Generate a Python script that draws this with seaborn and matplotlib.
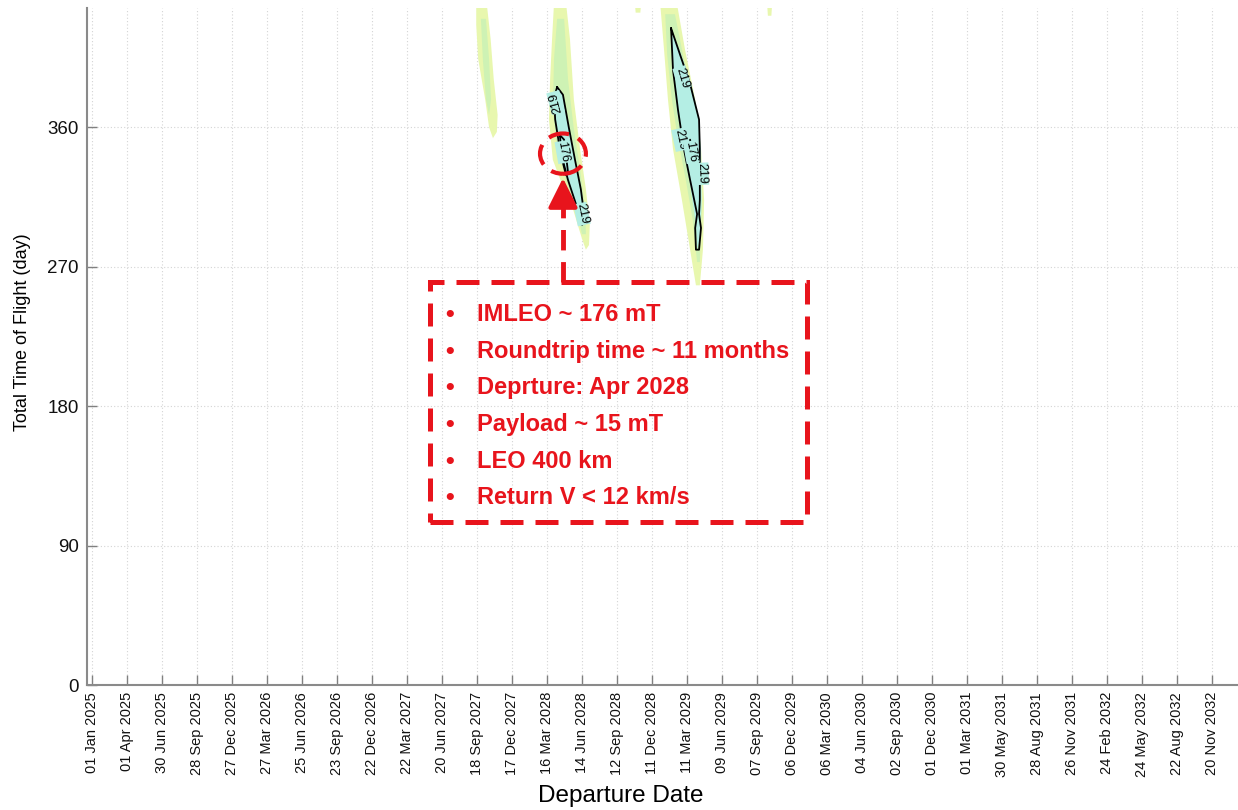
import matplotlib
matplotlib.use("Agg")
import matplotlib.pyplot as plt
import seaborn as sns
import pandas as pd
from matplotlib.patches import Ellipse, Rectangle

# ---------------- data ----------------
# x: departure date in days since 01 Jan 2025 ; y: total time of flight (days)
tick_days = [i * 90 for i in range(33)]
tick_labels = ["01 Jan 2025", "01 Apr 2025", "30 Jun 2025", "28 Sep 2025", "27 Dec 2025",
               "27 Mar 2026", "25 Jun 2026", "23 Sep 2026", "22 Dec 2026", "22 Mar 2027",
               "20 Jun 2027", "18 Sep 2027", "17 Dec 2027", "16 Mar 2028", "14 Jun 2028",
               "12 Sep 2028", "11 Dec 2028", "11 Mar 2029", "09 Jun 2029", "07 Sep 2029",
               "06 Dec 2029", "06 Mar 2030", "04 Jun 2030", "02 Sep 2030", "01 Dec 2030",
               "01 Mar 2031", "30 May 2031", "28 Aug 2031", "26 Nov 2031", "24 Feb 2032",
               "24 May 2032", "22 Aug 2032", "20 Nov 2032"]
y_ticks = [0, 90, 180, 270, 360]

# band 1 (Sep 2027 window)
band1_outer_x = [988, 1015, 1025, 1033, 1043, 1041, 1031, 1021, 1011, 993, 988]
band1_outer_y = [440, 440, 417, 391, 368, 357, 353, 360, 378, 404, 426]
band1_mid_x = [1000, 1013, 1021, 1026, 1021, 1013, 1005]
band1_mid_y = [430, 430, 404, 378, 368, 378, 404]

# band 2 (Apr 2028 window)
band2_outer_x = [1188, 1219, 1229, 1239, 1255, 1270, 1280, 1278, 1270, 1260, 1237, 1209, 1185, 1175, 1178, 1183]
band2_outer_y = [440, 440, 417, 378, 346, 320, 297, 284, 281, 288, 307, 323, 339, 365, 391, 417]
band2_mid_x = [1196, 1214, 1224, 1239, 1255, 1268, 1270, 1260, 1245, 1219, 1196, 1185, 1188]
band2_mid_y = [430, 430, 391, 359, 333, 307, 291, 291, 307, 326, 346, 371, 404]
band2_core_x = [1196, 1211, 1226, 1242, 1257, 1268, 1260, 1245, 1224, 1203, 1191, 1188, 1196]
band2_core_y = [386, 381, 360, 339, 320, 299, 297, 310, 326, 346, 365, 379, 386]
band2_c176_x = [1203, 1214, 1224, 1219, 1209, 1203]
band2_c176_y = [355, 352, 331, 329, 339, 355]

# band 3 (Feb-Apr 2029 window)
band3_outer_x = [1461, 1504, 1525, 1551, 1566, 1574, 1571, 1563, 1553, 1538, 1517, 1494, 1481, 1471]
band3_outer_y = [440, 440, 410, 378, 346, 313, 281, 258, 258, 281, 313, 346, 378, 410]
band3_mid_x = [1474, 1499, 1522, 1548, 1563, 1568, 1563, 1556, 1545, 1527, 1507, 1491, 1479]
band3_mid_y = [433, 433, 404, 371, 339, 307, 273, 273, 300, 326, 352, 378, 407]
band3_core_x = [1489, 1515, 1541, 1558, 1566, 1568, 1563, 1556, 1553, 1538, 1520, 1504, 1494]
band3_core_y = [424, 407, 388, 368, 346, 313, 288, 281, 297, 323, 346, 371, 397]
band3_c219_x = [1489, 1512, 1538, 1561, 1563, 1563, 1561, 1566, 1561, 1553, 1551, 1556, 1538, 1522, 1507, 1494, 1489]
band3_c219_y = [424, 407, 388, 365, 346, 313, 304, 295, 281, 281, 295, 304, 326, 346, 371, 397, 424]
band3_c176_x = [1538, 1545]
band3_c176_y = [352, 339]

# small isolated patches at the top
blob_a_x = [1396, 1412, 1410, 1398]
blob_a_y = [440, 440, 434, 434]
blob_b_x = [1736, 1749, 1747, 1738]
blob_b_y = [440, 440, 432, 432]

# contour labels: (x, y, text, rotation)
contour_labels = [(1192, 376, "219", 105), (1260, 304, "219", -78), (1211, 344, "176", -80),
                  (1517, 392, "219", -73), (1512, 352, "219", -78), (1541, 344, "176", -80),
                  (1569, 330, "219", -88)]

# annotation
note_lines = ["IMLEO ~ 176 mT", "Roundtrip time ~ 11 months", "Deprture: Apr 2028",
              "Payload ~ 15 mT", "LEO 400 km", "Return V < 12 km/s"]

# ---------------- style ----------------
sns.set_theme(style="white")
plt.rcParams["font.family"] = ["Liberation Sans", "DejaVu Sans"]

OUTER = "#e8f7ae"
MID = "#cef2b4"
CORE = "#b4eee4"
RED = "#e8141c"

fig = plt.figure(figsize=(12.38, 8.10), dpi=100)
ax = fig.add_axes([87 / 1238, 125 / 810, (1238 - 87) / 1238, (685 - 8) / 810])

for xs, ys, c in [(band1_outer_x, band1_outer_y, OUTER), (band1_mid_x, band1_mid_y, MID),
                  (band2_outer_x, band2_outer_y, OUTER), (band2_mid_x, band2_mid_y, MID),
                  (band2_core_x, band2_core_y, CORE),
                  (band3_outer_x, band3_outer_y, OUTER), (band3_mid_x, band3_mid_y, MID),
                  (band3_core_x, band3_core_y, CORE),
                  (blob_a_x, blob_a_y, OUTER), (blob_b_x, blob_b_y, OUTER)]:
    ax.fill(xs, ys, color=c, lw=0, zorder=1)

for xs, ys in [(band2_core_x, band2_core_y), (band2_c176_x, band2_c176_y),
               (band3_c219_x, band3_c219_y), (band3_c176_x, band3_c176_y)]:
    df = pd.DataFrame({"d": xs, "t": ys})
    sns.lineplot(data=df, x="d", y="t", sort=False, estimator=None, color="black",
                 lw=1.3, ax=ax, zorder=3)

for x, y, s, r in contour_labels:
    ax.text(x, y, s, rotation=r, ha="center", va="center", fontsize=9, color="black",
            zorder=4, rotation_mode="anchor",
            bbox=dict(boxstyle="square,pad=0.05", fc=CORE, ec="none"))

# red annotation
ax.add_patch(Ellipse((1211, 343), 118, 26, fill=False, ec=RED, lw=3,
                     ls=(0, (5, 2.4)), zorder=5))
ax.plot([1211, 1211], [260, 316], color=RED, lw=3.5, ls=(0, (4.2, 2.4)), zorder=5,
        solid_capstyle="butt", dash_capstyle="butt")
ax.annotate("", xy=(1211, 329), xytext=(1211, 316),
            arrowprops=dict(arrowstyle="-|>,head_length=0.9,head_width=0.45",
                            color=RED, lw=3, mutation_scale=20), zorder=5)
ax.add_patch(Rectangle((869, 105), 1839 - 869, 260 - 105, fill=False, ec=RED, lw=3.6,
                       ls=(0, (4.6, 2.4)), zorder=5))
line_y = [239, 215, 192, 168, 144, 121]
for yy, s in zip(line_y, note_lines):
    ax.text(920, yy, "\u2022", color=RED, fontsize=18, fontweight="bold",
            ha="center", va="center", zorder=6)
    ax.text(990, yy, s, color=RED, fontsize=17, fontweight="bold",
            ha="left", va="center", zorder=6)

# axes
ax.set_xlim(-13, 2947)
ax.set_ylim(0, 437)
ax.set_xticks(tick_days)
ax.set_xticklabels(tick_labels, rotation=90, fontsize=10.5)
ax.set_yticks(y_ticks)
ax.set_yticklabels([str(v) for v in y_ticks], fontsize=13.5)
ax.tick_params(axis="both", direction="in", length=7.5, width=1, color="#808080",
               labelcolor="#111111", left=True, bottom=True)
ax.tick_params(axis="y", pad=6)
ax.tick_params(axis="x", pad=5)
ax.grid(True, ls=(0, (1, 2)), color="#d4d4d4", lw=0.8)
ax.set_axisbelow(True)
for side in ["top", "right"]:
    ax.spines[side].set_visible(False)
for side in ["left", "bottom"]:
    ax.spines[side].set_color("#8a8a8a")
    ax.spines[side].set_linewidth(1.5)
ax.set_xlabel("Departure Date", fontsize=17.5, color="black")
ax.xaxis.set_label_coords((621 - 87) / 1151, -0.148)
ax.set_ylabel("Total Time of Flight (day)", fontsize=13, color="black",
              family=["Liberation Sans Narrow", "Liberation Sans", "DejaVu Sans"])
ax.yaxis.set_label_coords((31 - 87) / 1151, (685 - 332) / 677)

fig.savefig("out.png", dpi=100)
